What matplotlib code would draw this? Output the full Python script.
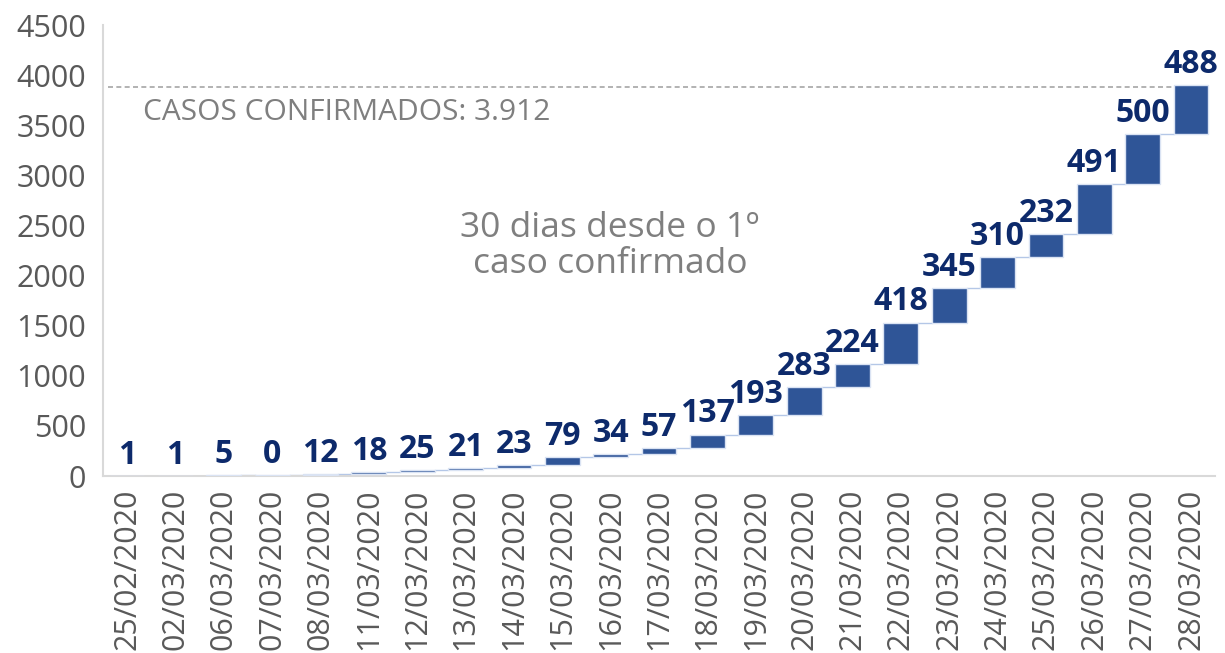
import matplotlib
matplotlib.use("Agg")
import matplotlib.pyplot as plt
import numpy as np

dates = ["25/02/2020", "02/03/2020", "06/03/2020", "07/03/2020", "08/03/2020",
         "11/03/2020", "12/03/2020", "13/03/2020", "14/03/2020", "15/03/2020",
         "16/03/2020", "17/03/2020", "18/03/2020", "19/03/2020", "20/03/2020",
         "21/03/2020", "22/03/2020", "23/03/2020", "24/03/2020", "25/03/2020",
         "26/03/2020", "27/03/2020", "28/03/2020"]
new_cases = [1, 1, 5, 0, 12, 18, 25, 21, 23, 79, 34, 57, 137, 193, 283,
             224, 418, 345, 310, 232, 491, 500, 488]
total_line = 3880
total_text = "CASOS CONFIRMADOS: 3.912"
note_text = "30 dias desde o 1º\ncaso confirmado"
yticks = [0, 500, 1000, 1500, 2000, 2500, 3000, 3500, 4000, 4500]

plt.rcParams['font.family'] = ['Open Sans', 'DejaVu Sans']

fig = plt.figure(figsize=(12.25, 6.53), dpi=100)
ax = fig.add_axes([0.084, 0.271, 0.908, 0.6907])

x = np.arange(len(dates))
vals = np.array(new_cases)
tops = np.cumsum(vals)
bottoms = np.concatenate([[0], tops[:-1]])
width = 0.72

ax.bar(x, vals, bottom=bottoms, width=width, color="#2F5597",
       edgecolor="#dae3f3", linewidth=1.0, zorder=3)

# connector lines between consecutive bars
for i in range(len(x) - 1):
    ax.plot([x[i] + width / 2, x[i + 1] - width / 2], [tops[i], tops[i]],
            color="#b4c7e7", linewidth=1.0, zorder=2)

for xi, t, v in zip(x, tops, vals):
    ax.annotate(str(v), (xi, t), xytext=(0, 3), textcoords="offset points",
                ha="center", va="bottom", fontsize=23, fontweight="bold",
                color="#0D2A6B", zorder=4)

ax.axhline(total_line, xmin=0.005, xmax=0.965, color="#a6a6a6",
           linestyle=(0, (3, 2)), linewidth=1.2, zorder=2)
ax.text(0.036, 0.807, total_text, transform=ax.transAxes, fontsize=21.5,
        color="#7f7f7f", ha="left", va="center")
ax.text(0.456, 0.51, note_text, transform=ax.transAxes, fontsize=25.5,
        color="#7f7f7f", ha="center", va="center", linespacing=1.05)

ax.set_xlim(-0.5, 22.5)
ax.set_ylim(0, 4500)
ax.set_yticks(yticks)
ax.set_yticklabels([str(t) for t in yticks])
ax.set_xticks(x)
ax.set_xticklabels(dates, rotation=90)
ax.tick_params(axis="both", length=0, labelsize=22, labelcolor="#595959")
ax.tick_params(axis="x", pad=9)
ax.tick_params(axis="y", pad=12)

for s in ["top", "right"]:
    ax.spines[s].set_visible(False)
for s in ["left", "bottom"]:
    ax.spines[s].set_color("#d9d9d9")
    ax.spines[s].set_linewidth(1.5)

fig.savefig("out.png", dpi=100)
